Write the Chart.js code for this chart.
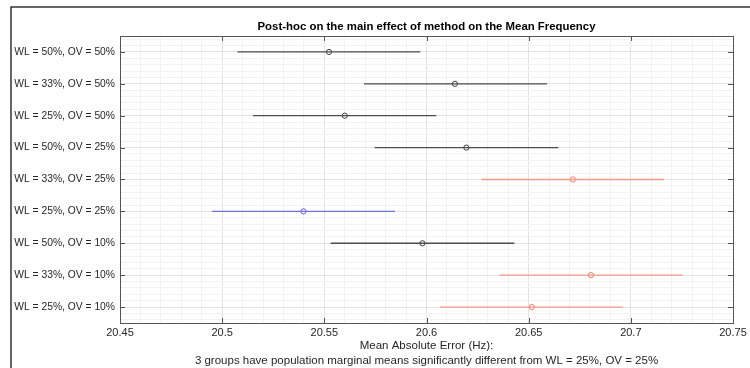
<!DOCTYPE html>
<html>
<head>
<meta charset="utf-8">
<script src="https://cdn.jsdelivr.net/npm/chart.js@4.4.0/dist/chart.umd.min.js"></script>
<style>
  html, body { margin: 0; padding: 0; background: #fff; }
</style>
</head>
<body>
<canvas id="myChart" width="750" height="368"></canvas>
<script>
// groups, top row first
var groupLabels = [
  'WL = 50%, OV = 50%',
  'WL = 33%, OV = 50%',
  'WL = 25%, OV = 50%',
  'WL = 50%, OV = 25%',
  'WL = 33%, OV = 25%',
  'WL = 25%, OV = 25%',
  'WL = 50%, OV = 10%',
  'WL = 33%, OV = 10%',
  'WL = 25%, OV = 10%'
];
var meanValues  = [20.5523, 20.6139, 20.5600, 20.6195, 20.6716, 20.5398, 20.5980, 20.6805, 20.6515];
var lowerValues = [20.5075, 20.5694, 20.5151, 20.5746, 20.6269, 20.4950, 20.5531, 20.6357, 20.6066];
var upperValues = [20.5970, 20.6590, 20.6048, 20.6645, 20.7163, 20.5846, 20.6430, 20.7253, 20.6962];
// 0 = same as selected group, 1 = significantly different, 2 = selected group
var groupStatus = [0, 0, 0, 0, 1, 2, 0, 1, 1];
var xTickValues = [20.45, 20.5, 20.55, 20.6, 20.65, 20.7, 20.75];
var titleText = 'Post-hoc on the main effect of method on the Mean Frequency';
var xTitleLines = [
  'Mean Absolute Error (Hz):',
  '3 groups have population marginal means significantly different from WL = 25%, OV = 25%'
];

var statusColors = ['#4c4c4c', '#f59a8a', '#7272dc'];
var markerColors = ['#404040', '#f07f6c', '#6363d8'];

function isMajorX(v) {
  return xTickValues.some(function (t) { return Math.abs(t - v) < 1e-6; });
}
function isRow(v) {
  return Math.abs(v - Math.round(v)) < 1e-6;
}

// white page + figure frame + axes box with inward ticks
var framePlugin = {
  id: 'framePlugin',
  beforeDraw: function (chart) {
    var c = chart.ctx;
    c.save();
    c.fillStyle = '#fff';
    c.fillRect(0, 0, chart.width, chart.height);
    c.restore();
  },
  afterDraw: function (chart) {
    var c = chart.ctx;
    var a = chart.chartArea;
    var xs = chart.scales.x, ys = chart.scales.y;
    c.save();
    // figure border
    c.strokeStyle = '#333';
    c.lineWidth = 1.5;
    c.beginPath();
    c.moveTo(11, chart.height);
    c.lineTo(11, 7);
    c.lineTo(chart.width, 7);
    c.stroke();
    // axes box
    c.strokeStyle = '#555';
    c.lineWidth = 1;
    c.strokeRect(Math.round(a.left) + 0.5, Math.round(a.top) + 0.5,
      Math.round(a.right - a.left), Math.round(a.bottom - a.top));
    c.beginPath();
    xTickValues.forEach(function (t) {
      var px = Math.round(xs.getPixelForValue(t)) + 0.5;
      c.moveTo(px, a.bottom); c.lineTo(px, a.bottom - 5);
      c.moveTo(px, a.top); c.lineTo(px, a.top + 5);
    });
    groupLabels.forEach(function (g, i) {
      var py = Math.round(ys.getPixelForValue(i + 1)) + 0.5;
      c.moveTo(a.left, py); c.lineTo(a.left + 5, py);
      c.moveTo(a.right, py); c.lineTo(a.right - 5, py);
    });
    c.stroke();
    c.restore();
  }
};

var datasets = [];
groupLabels.forEach(function (g, i) {
  datasets.push({
    label: g,
    data: [{ x: lowerValues[i], y: i + 1 }, { x: upperValues[i], y: i + 1 }],
    showLine: true,
    borderColor: statusColors[groupStatus[i]],
    borderWidth: 1.3,
    pointRadius: 0,
    fill: false
  });
});
datasets.push({
  label: 'means',
  data: meanValues.map(function (m, i) { return { x: m, y: i + 1 }; }),
  pointStyle: 'circle',
  pointRadius: 2.6,
  pointBorderWidth: 1,
  pointBackgroundColor: 'rgba(0,0,0,0)',
  pointBorderColor: groupStatus.map(function (s) { return markerColors[s]; })
});

Chart.defaults.font.family = '"Liberation Sans", Arial, Helvetica, sans-serif';
Chart.defaults.color = '#262626';

var ctx = document.getElementById('myChart').getContext('2d');
var myChart = new Chart(ctx, {
  type: 'scatter',
  data: { datasets: datasets },
  plugins: [framePlugin],
  options: {
    responsive: false,
    animation: false,
    devicePixelRatio: 1,
    layout: { padding: { left: 0, right: 17, top: 8, bottom: 0 } },
    plugins: {
      legend: { display: false },
      tooltip: { enabled: false },
      title: {
        display: true,
        text: titleText,
        fullSize: false,
        color: '#000',
        font: { size: 11.4, weight: 'bold' },
        padding: { top: 12, bottom: 2.3 }
      }
    },
    scales: {
      x: {
        type: 'linear',
        min: 20.45,
        max: 20.75,
        afterBuildTicks: function (axis) {
          var t = [];
          for (var k = 0; k <= 30; k++) {
            t.push({ value: Math.round((20.45 + k * 0.01) * 100) / 100 });
          }
          axis.ticks = t;
        },
        afterFit: function (axis) { axis.height = 45; },
        border: { display: false },
        grid: {
          drawTicks: false,
          color: function (c) { return isMajorX(c.tick.value) ? '#e3e3e3' : '#f1f1f1'; },
          lineWidth: 1
        },
        ticks: {
          autoSkip: false,
          maxRotation: 0,
          padding: 3,
          font: { size: 11 },
          callback: function (v) { return isMajorX(v) ? String(Math.round(v * 100) / 100) : ''; }
        },
        title: {
          display: true,
          text: xTitleLines,
          font: { size: 11.5, lineHeight: 1.3 },
          padding: { top: 0, bottom: 0 }
        }
      },
      y: {
        type: 'linear',
        reverse: true,
        min: 0.5,
        max: 9.5,
        afterBuildTicks: function (axis) {
          var t = [];
          for (var k = -2; k <= 42; k++) {
            t.push({ value: Math.round((1 + k * 0.2) * 10) / 10 });
          }
          axis.ticks = t;
        },
        afterFit: function (axis) { axis.width = 120; },
        border: { display: false },
        grid: {
          drawTicks: false,
          color: function (c) { return isRow(c.tick.value) ? '#e4e4e4' : '#f2f2f2'; },
          lineWidth: 1
        },
        ticks: {
          autoSkip: false,
          padding: 5,
          font: { size: 10.3 },
          callback: function (v) { return isRow(v) ? groupLabels[Math.round(v) - 1] : ''; }
        }
      }
    }
  }
});
</script>
</body>
</html>
